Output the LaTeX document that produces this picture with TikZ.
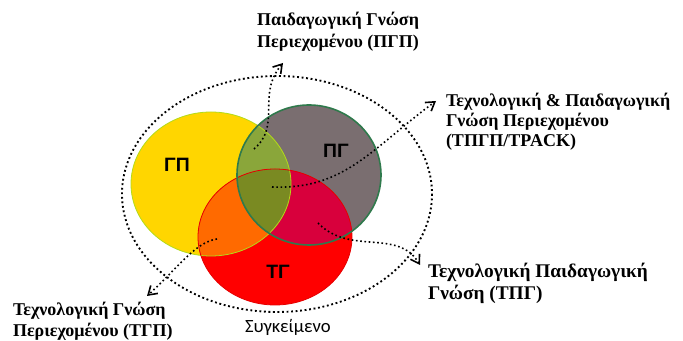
\documentclass[tikz,border=0pt]{standalone}
\usepackage{fontspec}
\setmainfont{Liberation Serif}
\newfontfamily\setfont{Liberation Sans}
\newfontfamily\ctxfont{Carlito}
\usetikzlibrary{arrows.meta, positioning}

\definecolor{gpyellow}{HTML}{FFD600}
\definecolor{pggray}{HTML}{7A6E70}
\definecolor{tgred}{HTML}{FF0000}
\definecolor{pgpgreen}{HTML}{8AA63A}
\definecolor{tgporange}{HTML}{FF6A00}
\definecolor{tpgcrimson}{HTML}{D8003C}
\definecolor{tpackolive}{HTML}{7A8A22}
\definecolor{pgedge}{HTML}{2F7A4C}

\begin{document}
\begin{tikzpicture}[
  x=0.75pt, y=-0.75pt,
  every node/.style={inner sep=0pt, outer sep=0pt},
  setlabel/.style={font=\setfont\bfseries\fontsize{14.5}{16}\selectfont},
  callout/.style={font=\bfseries\fontsize{13.5}{16.5}\selectfont,
    align=left, anchor=north west},
  darr/.style={-{Straight Barb[length=2.2mm, width=2.8mm]}, dotted,
    line width=1.2pt},
  outerring/.style={dotted, line width=1.4pt}
]
\useasboundingbox (0,0) rectangle (683,341);

% the three knowledge sets
\def\ellGP{(211,184) ellipse [x radius=80, y radius=72]}
\def\ellPG{(309,175) ellipse [x radius=72, y radius=70]}
\def\ellTG{(275,237) ellipse [x radius=77, y radius=68]}

\fill[gpyellow] \ellGP;
\fill[pggray] \ellPG;
\fill[tgred] \ellTG;
\begin{scope}
  \clip \ellGP;
  \fill[pgpgreen] \ellPG;
  \fill[tgporange] \ellTG;
\end{scope}
\begin{scope}
  \clip \ellPG;
  \fill[tpgcrimson] \ellTG;
\end{scope}
\begin{scope}
  \clip \ellGP; \clip \ellPG;
  \fill[tpackolive] \ellTG;
\end{scope}
\draw[yellow!70!green, line width=0.6pt] \ellGP;
\draw[red!90!black, line width=0.6pt] \ellTG;
\draw[pgedge, line width=1.2pt] \ellPG;

% context
\draw[outerring] (277,194) ellipse [x radius=155, y radius=118];

\node[setlabel] (gp) at (177,165) {ΓΠ};
\node[setlabel] (pg) at (336,151) {ΠΓ};
\node[setlabel] (tg) at (278,272) {ΤΓ};

% callouts
\node[callout, align=center, anchor=north] (pgp) at (338,12)
  {Παιδαγωγική Γνώση\\Περιεχομένου (ΠΓΠ)};
\node[callout, font=\bfseries\fontsize{13.5}{15}\selectfont] (tpack) at (446,93)
  {Τεχνολογική \& Παιδαγωγική\\Γνώση Περιεχομένου\\(ΤΠΓΠ/TPACK)};
\node[callout, font=\bfseries\fontsize{14.5}{16.5}\selectfont] (tpg) at (428,263)
  {Τεχνολογική Παιδαγωγική\\Γνώση (ΤΠΓ)};
\node[callout, font=\bfseries\fontsize{13.5}{15.5}\selectfont] (tgp) at (13,302)
  {Τεχνολογική Γνώση\\Περιεχομένου (ΤΓΠ)};
\node[font=\ctxfont\fontsize{14}{16}\selectfont, anchor=north west] (ctx) at (245,319)
  {Συγκείμενο};

% arrow ends
\coordinate (pgpS) at (254,149);
\coordinate (pgpE) at (283,63);
\coordinate (tpackS) at (272,187);
\coordinate (tpackE) at (436,101);
\coordinate (tpgS) at (318,223);
\coordinate (tpgE) at (420,265);
\coordinate (tgpS) at (217,239);
\coordinate (tgpE) at (147,296);

\draw[darr] (pgpS) .. controls (282,125) and (256,95) .. (pgpE);
\draw[darr] (tpackS) .. controls (345,190) and (372,148) .. (tpackE);
\draw[darr] (tpgS) .. controls (350,256) and (398,228) .. (tpgE);
\draw[darr] (tgpS) .. controls (195,242) and (176,270) .. (tgpE);

\end{tikzpicture}
\end{document}
